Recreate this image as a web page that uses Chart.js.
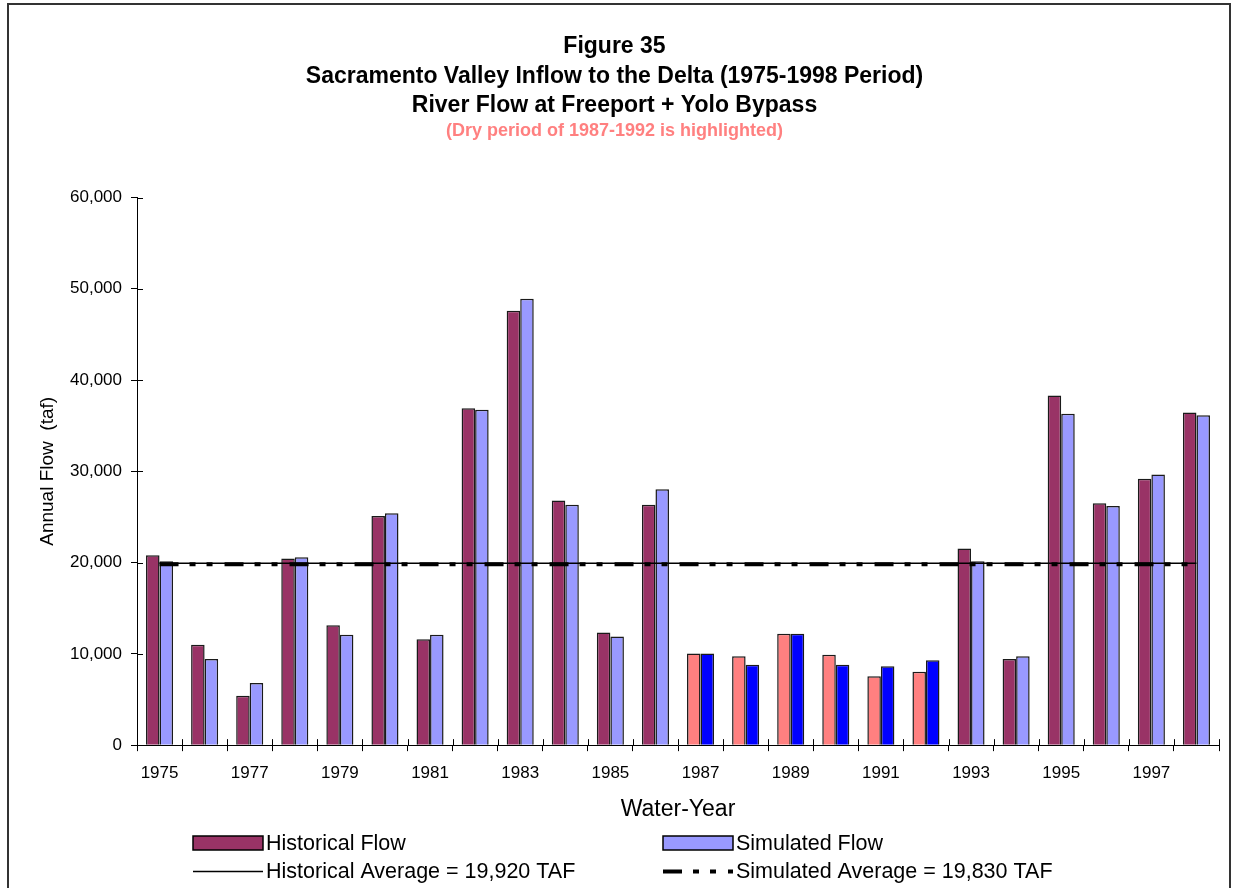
<!DOCTYPE html>
<html>
<head>
<meta charset="utf-8">
<title>Figure 35</title>
<script src="https://cdn.jsdelivr.net/npm/chart.js@4.4.0/dist/chart.umd.min.js"></script>
<style>
  html, body { margin: 0; padding: 0; background: #fff; }
  #wrap { width: 1235px; height: 888px; }
</style>
</head>
<body>
<div id="wrap"><canvas id="flowChart" width="1235" height="888"></canvas></div>
<script>
const years = ['1975', '1976', '1977', '1978', '1979', '1980', '1981', '1982', '1983', '1984', '1985', '1986',
               '1987', '1988', '1989', '1990', '1991', '1992', '1993', '1994', '1995', '1996', '1997', '1998'];
const historicalFlow = [20800, 11000, 5400, 20450, 13150, 25100, 11600, 36900, 47600, 26800, 12350, 26350,
                        10050, 9750, 12200, 9900, 7550, 8050, 21550, 9450, 38300, 26500, 29200, 36450];
const simulatedFlow = [20150, 9450, 6800, 20600, 12100, 25400, 12100, 36750, 48900, 26350, 11900, 28050,
                       10050, 8800, 12200, 8800, 8650, 9300, 20150, 9750, 36300, 26200, 29650, 36150];
const dryYears = ['1987', '1988', '1989', '1990', '1991', '1992'];
const historicalAverage = 19920;
const simulatedAverage = 19830;
const yTicks = [0, 10000, 20000, 30000, 40000, 50000, 60000];

const fmt = v => v.toLocaleString('en-US');
const FONT = '"Liberation Sans", Arial, sans-serif';
Chart.defaults.font.family = FONT;
Chart.defaults.color = '#000';

const simDash = [19, 11, 6, 11, 6, 12];

// outer frame of the figure
const frame = {
    id: 'frame',
    beforeDraw(chart) {
        const ctx = chart.ctx;
        ctx.save();
        ctx.fillStyle = '#fff';
        ctx.fillRect(0, 0, chart.width, chart.height);
        ctx.strokeStyle = '#333';
        ctx.lineWidth = 2;
        ctx.strokeRect(8, 4, 1222, 900);
        ctx.restore();
    }
};

// excel style ticks that cross the axis
const crossTicks = {
    id: 'crossTicks',
    afterDraw(chart) {
        const { ctx, scales: { x, y } } = chart;
        ctx.save();
        ctx.strokeStyle = '#000';
        ctx.lineWidth = 1;
        ctx.beginPath();
        for (let i = 0; i <= years.length; i++) {
            const px = Math.round(x.getPixelForValue(i - 0.5)) + 0.5;
            ctx.moveTo(px, y.bottom);
            ctx.lineTo(px, y.bottom - 6);
        }
        yTicks.forEach(v => {
            const py = Math.round(y.getPixelForValue(v)) + 0.5;
            ctx.moveTo(x.left, py);
            ctx.lineTo(x.left + 6, py);
        });
        ctx.stroke();
        ctx.restore();
    }
};

// two-column legend under the axis title
const legendBox = {
    id: 'legendBox',
    afterDraw(chart) {
        const ctx = chart.ctx;
        const ds = chart.data.datasets;
        const cols = [193, 663];
        const rows = [843, 871];
        const slots = [[0, 0], [1, 0], [0, 1], [1, 1]];
        ctx.save();
        ctx.font = '21.5px ' + FONT;
        ctx.textBaseline = 'middle';
        ds.forEach((d, i) => {
            const x0 = cols[slots[i][0]];
            const yc = rows[slots[i][1]];
            if (d.type === 'line') {
                ctx.strokeStyle = '#000';
                ctx.lineWidth = d.borderWidth;
                ctx.setLineDash(d.borderDash || []);
                ctx.beginPath();
                ctx.moveTo(x0, yc + 0.5);
                ctx.lineTo(x0 + 70, yc + 0.5);
                ctx.stroke();
                ctx.setLineDash([]);
            } else {
                ctx.fillStyle = d.legendColor;
                ctx.fillRect(x0, yc - 7, 70, 14);
                ctx.strokeStyle = '#000';
                ctx.lineWidth = 1.5;
                ctx.strokeRect(x0, yc - 7, 70, 14);
            }
            ctx.fillStyle = '#000';
            ctx.fillText(d.label, x0 + 73, yc + 1);
        });
        ctx.restore();
    }
};

const histColors = years.map(y => dryYears.includes(y) ? '#FF8080' : '#993366');
const simColors = years.map(y => dryYears.includes(y) ? '#0000FF' : '#9999FF');

new Chart(document.getElementById('flowChart'), {
    data: {
        labels: years,
        datasets: [
            {
                type: 'bar', label: 'Historical Flow', data: historicalFlow,
                backgroundColor: histColors, legendColor: '#993366',
                borderColor: '#1a1a1a', borderWidth: 1.5, order: 2
            },
            {
                type: 'bar', label: 'Simulated Flow', data: simulatedFlow,
                backgroundColor: simColors, legendColor: '#9999FF',
                borderColor: '#1a1a1a', borderWidth: 1.5, order: 2
            },
            {
                type: 'line', label: 'Historical Average = ' + fmt(historicalAverage) + ' TAF',
                data: years.map(() => historicalAverage),
                borderColor: '#000', borderWidth: 1.5, pointRadius: 0, fill: false, order: 0
            },
            {
                type: 'line', label: 'Simulated Average = ' + fmt(simulatedAverage) + ' TAF',
                data: years.map(() => simulatedAverage),
                borderColor: '#000', borderWidth: 4, borderDash: simDash, borderCapStyle: 'butt',
                pointRadius: 0, fill: false, order: 1
            }
        ]
    },
    options: {
        responsive: false,
        animation: false,
        devicePixelRatio: 1,
        categoryPercentage: 0.6,
        barPercentage: 1.0,
        layout: { padding: { left: 10, right: 16, top: 0, bottom: 63 } },
        plugins: {
            legend: { display: false },
            tooltip: { enabled: false },
            title: {
                display: true,
                text: ['Figure 35', 'Sacramento Valley Inflow to the Delta (1975-1998 Period)', 'River Flow at Freeport + Yolo Bypass'],
                font: { size: 23, weight: 'bold', lineHeight: 1.283 },
                color: '#000',
                padding: { top: 32, bottom: 2 }
            },
            subtitle: {
                display: true,
                text: '(Dry period of 1987-1992 is highlighted)',
                font: { size: 18, weight: 'bold', lineHeight: 1.0 },
                color: '#FF8080',
                padding: { top: 0, bottom: 57 }
            }
        },
        scales: {
            x: {
                offset: true,
                grid: { display: true, offset: true, drawOnChartArea: false, tickLength: 6, color: '#000' },
                border: { color: '#000', width: 1 },
                ticks: {
                    autoSkip: false, maxRotation: 0, minRotation: 0, padding: 12,
                    font: { size: 17 }, color: '#000',
                    callback: (v, i) => i % 2 === 0 ? years[i] : ''
                },
                title: {
                    display: true, text: 'Water-Year', color: '#000',
                    font: { size: 23, lineHeight: 1.15 }, padding: { top: 1, bottom: 2 }
                }
            },
            y: {
                min: 0, max: 60000,
                afterBuildTicks: s => { s.ticks = yTicks.map(v => ({ value: v })); },
                afterFit: s => { s.width = 127; },
                grid: { display: true, drawOnChartArea: false, tickLength: 6, color: '#000' },
                border: { color: '#000', width: 1 },
                ticks: { padding: 9, font: { size: 17 }, color: '#000', callback: v => fmt(v) },
                title: {
                    display: true, text: 'Annual Flow  (taf)', color: '#000',
                    font: { size: 19, lineHeight: 1.2 }, padding: { top: 26, bottom: 0 }
                }
            }
        }
    },
    plugins: [frame, crossTicks, legendBox]
});
</script>
</body>
</html>
